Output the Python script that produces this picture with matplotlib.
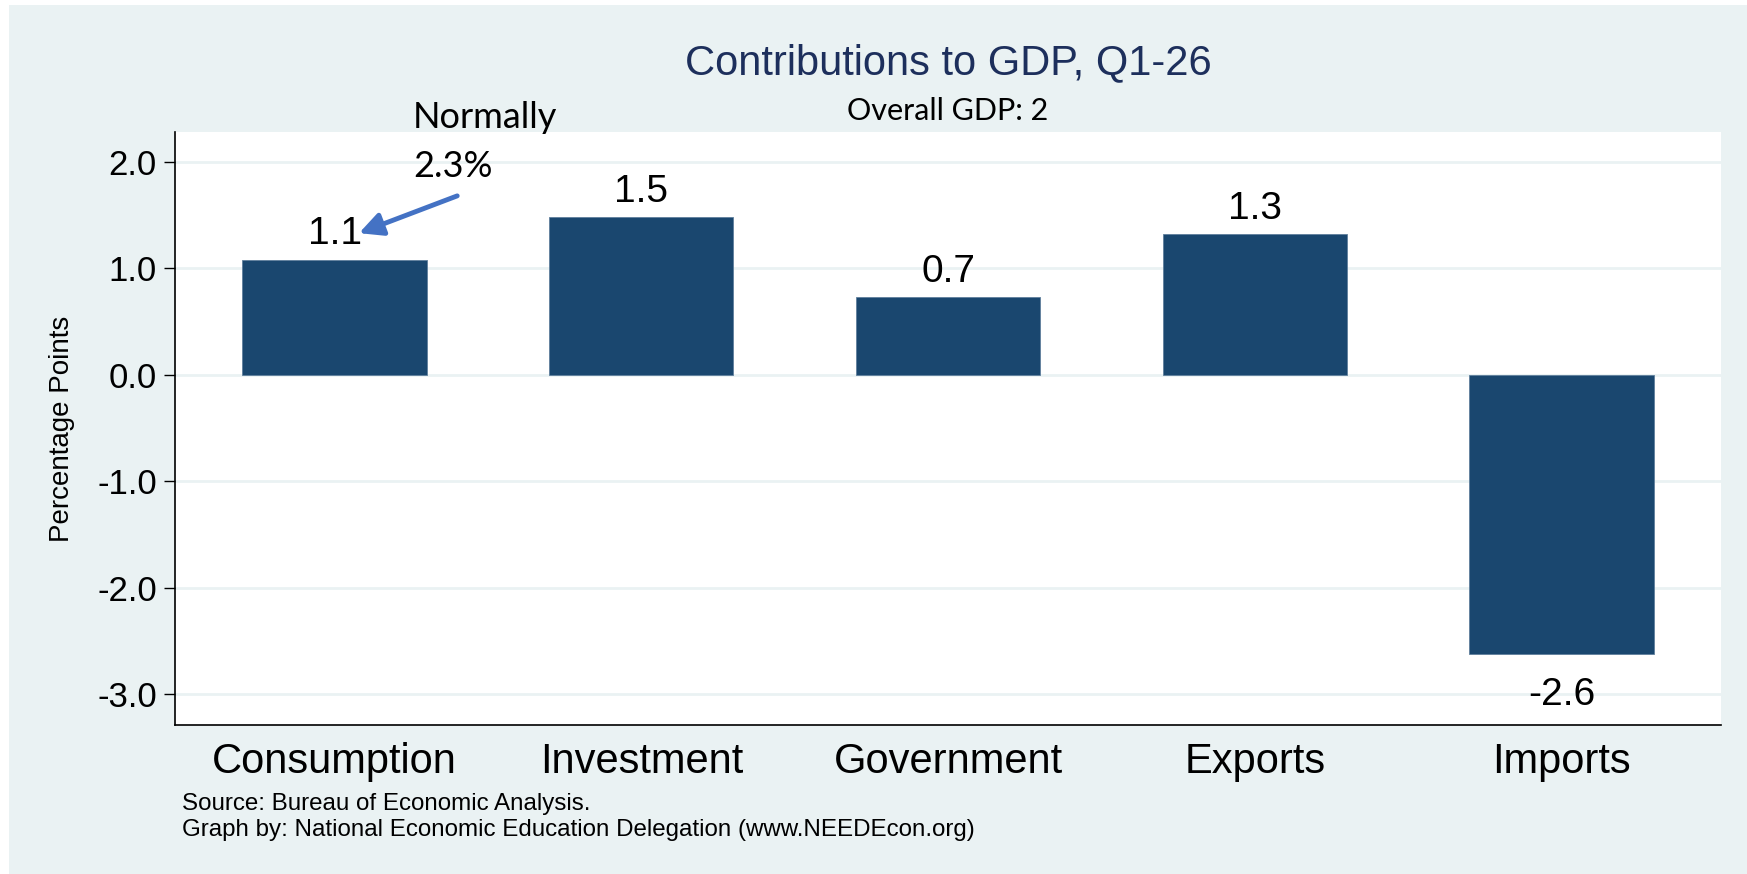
import matplotlib.pyplot as plt
from matplotlib.patches import Rectangle
import numpy as np

plt.rcParams['font.family'] = ['Liberation Sans', 'DejaVu Sans']
plt.rcParams['axes.unicode_minus'] = False

categories = ['Consumption', 'Investment', 'Government', 'Exports', 'Imports']
contributions = [1.08, 1.48, 0.73, 1.32, -2.62]
yticks = [-3.0, -2.0, -1.0, 0.0, 1.0, 2.0]

bar_color = '#1a476f'
bg_color = '#eaf2f3'
title_color = '#1d2f5c'

W, H = 1747, 874
fig = plt.figure(figsize=(W / 100, H / 100), dpi=100, facecolor='white')
# stata style graph region (small white strip on left/top)
fig.patches.append(Rectangle((9 / W, 0), 1 - 9 / W, 1 - 5 / H, transform=fig.transFigure,
                             facecolor=bg_color, edgecolor='none', zorder=-10))

ax = fig.add_axes([175 / W, 1 - 725 / H, (1721 - 175) / W, (725 - 132) / H])
ax.set_facecolor('white')

x = np.arange(len(categories))
ax.bar(x, contributions, width=0.6, color=bar_color, edgecolor='#5f7f9c', linewidth=0.6, zorder=3)

for xi, v in zip(x, contributions):
    if v >= 0:
        ax.annotate(f'{v:.1f}', (xi, v), xytext=(0, 11), textcoords='offset points',
                    ha='center', va='baseline', fontsize=28, zorder=4)
    else:
        ax.annotate(f'{v:.1f}', (xi, v), xytext=(0, -17), textcoords='offset points',
                    ha='center', va='top', fontsize=28, zorder=4)

ax.set_xlim(-0.52, 4.52)
ax.set_ylim(-3.29, 2.28)
ax.set_yticks(yticks)
ax.set_yticklabels([f'{t:.1f}' for t in yticks])
ax.set_xticks(x)
ax.set_xticklabels(categories)
ax.tick_params(axis='y', labelsize=25, length=8, width=1, pad=5)
ax.tick_params(axis='x', labelsize=30, length=0, pad=12)
ax.grid(axis='y', color=bg_color, linewidth=2, zorder=0)
ax.set_axisbelow(True)
for s in ['top', 'right']:
    ax.spines[s].set_visible(False)
for s in ['left', 'bottom']:
    ax.spines[s].set_linewidth(1.2)

ax.set_ylabel('Percentage Points', fontsize=20, labelpad=16)

# titles
fig.text(948 / W, 1 - 63 / H, 'Contributions to GDP, Q1-26', ha='center', va='center',
         fontsize=30, color=title_color)
fig.text(948 / W, 1 - 111 / H, 'Overall GDP: 2', ha='center', va='center',
         fontsize=22, family=['Lato', 'DejaVu Sans'])

# annotation
fig.text(413 / W, 1 - 128 / H, 'Normally', ha='left', va='baseline', fontsize=26,
         family=['Lato', 'DejaVu Sans'])
fig.text(413 / W, 1 - 177 / H, '2.3%', ha='left', va='baseline', fontsize=26,
         family=['Lato', 'DejaVu Sans'])
ax.annotate('', xy=(0.08, 1.33), xytext=(0.40, 1.68), annotation_clip=False,
            arrowprops=dict(arrowstyle='-|>,head_length=0.7,head_width=0.35', lw=3.5,
                            color='#4472c4', mutation_scale=20, shrinkA=0, shrinkB=0))

# footer
fig.text(182 / W, 1 - 810 / H, 'Source: Bureau of Economic Analysis.', ha='left', va='baseline',
         fontsize=17.4)
fig.text(182 / W, 1 - 836 / H, 'Graph by: National Economic Education Delegation (www.NEEDEcon.org)',
         ha='left', va='baseline', fontsize=17.4)

fig.savefig('out.png', dpi=100, facecolor='white')
